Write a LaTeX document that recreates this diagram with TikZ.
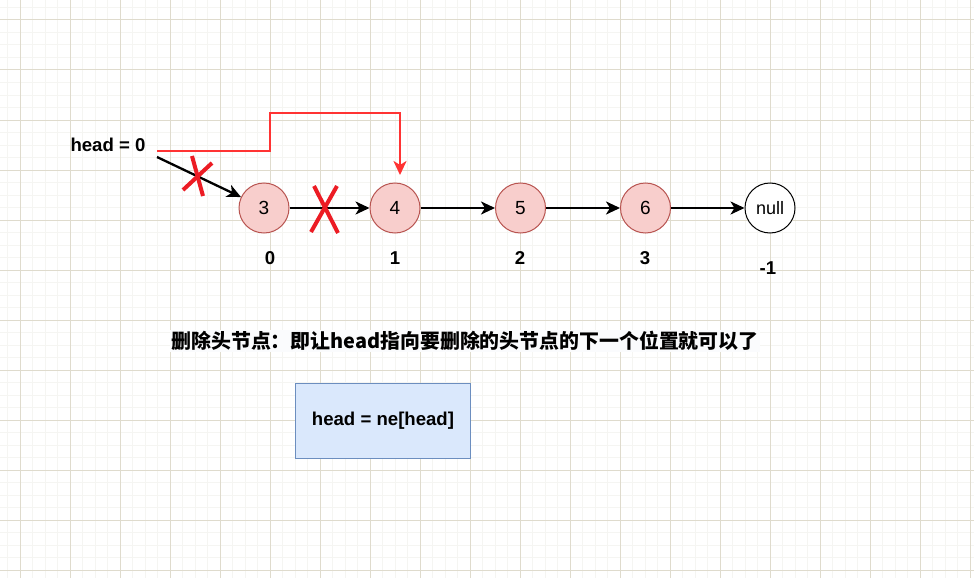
\documentclass[tikz,border=0pt]{standalone}
\usepackage{fontspec}
\setmainfont{Liberation Sans}
\newfontfamily\cjk{Noto Sans CJK SC}
\usetikzlibrary{arrows.meta,calc}
\definecolor{gmaj}{RGB}{223,219,205}
\definecolor{gmin}{RGB}{245,245,242}
\definecolor{nfill}{RGB}{248,206,204}
\definecolor{ndraw}{RGB}{184,84,80}
\definecolor{bfill}{RGB}{218,232,252}
\definecolor{bdraw}{RGB}{108,142,191}
\definecolor{pathred}{RGB}{255,51,51}
\definecolor{xred}{RGB}{236,28,36}
\definecolor{titlebg}{RGB}{250,251,253}
\tikzset{
  circnode/.style={circle, draw=ndraw, fill=nfill, line width=1pt, minimum size=50pt, inner sep=0pt, font=\fontsize{19}{22}\selectfont},
  nullnode/.style={circle, draw=black, fill=white, line width=1pt, minimum size=50pt, inner sep=0pt, font=\fontsize{18}{22}\selectfont},
  lbl/.style={font=\fontsize{18.6}{22}\selectfont\bfseries, inner sep=1pt},
  link/.style={draw=black, line width=2.3pt, -{Stealth[length=14pt,width=13pt,inset=4pt]}},
  redlink/.style={draw=pathred, line width=2.5pt, -{Stealth[length=14pt,width=13pt,inset=4pt]}},
  cross/.style={draw=xred, line width=4pt},
  codebox/.style={draw=bdraw, fill=bfill, line width=1pt, minimum width=175pt, minimum height=75pt, font=\fontsize{18.6}{22}\selectfont\bfseries}
}
\begin{document}
\begin{tikzpicture}[x=1pt,y=-1pt]
\useasboundingbox (0,0) rectangle (974,578);
\fill[white] (0,0) rectangle (974,578);
% grid
\foreach \i in {0,...,78} {
  \draw[gmin, line width=1pt] ({7.5+12.5*\i},0) -- ({7.5+12.5*\i},578);
}
\foreach \i in {0,...,46} {
  \draw[gmin, line width=1pt] (0,{7.5+12.5*\i}) -- (974,{7.5+12.5*\i});
}
\foreach \x in {20,70,...,970} {
  \draw[gmaj, line width=1pt] (\x,0) -- (\x,578);
}
\foreach \y in {20,70,...,570} {
  \draw[gmaj, line width=1pt] (0,\y) -- (974,\y);
}
% nodes
\node[lbl] (head) at (108,145) {head = 0};
\node[circnode] (n3) at (264,208) {3};
\node[circnode] (n4) at (395,208) {4};
\node[circnode] (n5) at (520.5,208) {5};
\node[circnode] (n6) at (645.5,208) {6};
\node[nullnode] (nl) at (770,208) {null};
\node[lbl] (i0) at (270,258) {0};
\node[lbl] (i1) at (395,258) {1};
\node[lbl] (i2) at (520,258) {2};
\node[lbl] (i3) at (645,258) {3};
\node[lbl] (i4) at (768,268) {-1};
\coordinate (hs) at (157,157);
\coordinate (hr) at (157,151);
\coordinate (r4) at (400,175);
% links
\draw[link] (hs) -- (n3);
\draw[link] (n3) -- (n4);
\draw[link] (n4) -- (n5);
\draw[link] (n5) -- (n6);
\draw[link] (n6) -- (nl);
\draw[redlink] (hr) -- (270,151) -- (270,113) -- (400,113) -- (r4);
% crosses
\draw[cross] (183,190) -- (212,163);
\draw[cross] (192,156) -- (203,196);
\draw[cross] (314,186) -- (338,233);
\draw[cross] (337,186) -- (311,232);
% text
\node[fill=titlebg, inner sep=1pt, font=\cjk\bfseries\fontsize{19.9}{23}\selectfont] (title) at (465,341) {删除头节点：即让head指向要删除的头节点的下一个位置就可以了};
\node[codebox] (box) at (383,420.5) {head = ne[head]};
\end{tikzpicture}
\end{document}
